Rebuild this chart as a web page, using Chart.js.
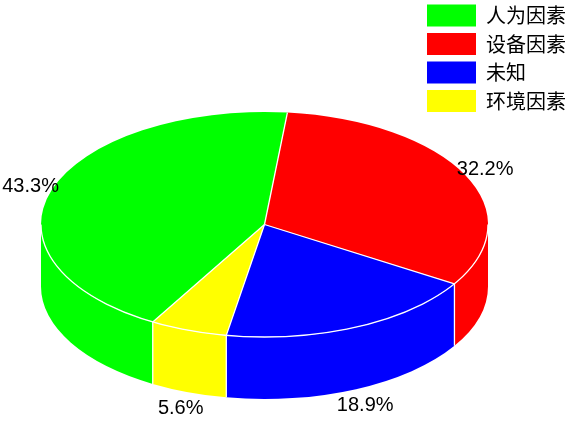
<!DOCTYPE html>
<html><head><meta charset="utf-8">
<script src="https://cdn.jsdelivr.net/npm/chart.js@4"></script>
<style>html,body{margin:0;padding:0;background:#fff}canvas{display:block}</style>
</head><body>
<canvas id="c" width="570" height="435"></canvas>
<script>
const categories = ['人为因素', '设备因素', '未知', '环境因素'];
const shares = [43.3, 32.2, 18.9, 5.6];
const sliceColors = ['#00ff00', '#ff0000', '#0000ff', '#ffff00'];

// drawing style of the tilted pie (ellipse radii and wall depth)
const PIE = { cx: 264.5, cy: 224.5, rx: 223.5, ry: 112.5, depth: 62 };
const LABEL_FONT = '20px "Liberation Sans", Arial, sans-serif';

const pie3d = {
  id: 'pie3d',
  afterLayout(chart) {
    const lg = chart.legend;
    lg.left += 6; lg.right += 6; lg.top -= 2; lg.bottom -= 2;
  },
  beforeDatasetsDraw(chart) {
    const ctx = chart.ctx;
    const arcs = chart.getDatasetMeta(0).data;
    const { cx, cy, rx, ry, depth } = PIE;
    // side walls (front half only)
    arcs.forEach((arc) => {
      const s = arc.startAngle, e = arc.endAngle;
      for (let k = -1; k <= 2; k++) {
        const lo = Math.max(s, k * 2 * Math.PI), hi = Math.min(e, k * 2 * Math.PI + Math.PI);
        if (hi > lo) {
          ctx.beginPath();
          ctx.ellipse(cx, cy, rx, ry, 0, lo, hi, false);
          ctx.ellipse(cx, cy + depth, rx, ry, 0, hi, lo, true);
          ctx.closePath();
          ctx.fillStyle = arc.options.backgroundColor;
          ctx.fill();
        }
      }
    });
    // squash the library's pie into the top face
    const a0 = arcs[0];
    const R = a0.outerRadius;
    ctx.save();
    ctx.translate(cx, cy);
    ctx.scale(rx / R, ry / R);
    ctx.translate(-a0.x, -a0.y);
  },
  afterDatasetsDraw(chart) {
    const ctx = chart.ctx;
    ctx.restore();
    const arcs = chart.getDatasetMeta(0).data;
    const { cx, cy, rx, ry, depth } = PIE;
    ctx.save();
    ctx.strokeStyle = '#ffffff';
    ctx.lineWidth = 1.3;
    // front rim of the top face
    ctx.beginPath();
    ctx.ellipse(cx, cy, rx, ry, 0, 0, Math.PI, false);
    ctx.stroke();
    arcs.forEach((arc) => {
      const a = arc.startAngle;
      const px = cx + rx * Math.cos(a), py = cy + ry * Math.sin(a);
      ctx.beginPath();
      ctx.moveTo(cx, cy);
      ctx.lineTo(px, py);
      if (Math.sin(a) > 0) {
        ctx.moveTo(px, py);
        ctx.lineTo(px, py + depth);
      }
      ctx.stroke();
    });
    // percentage labels
    ctx.fillStyle = '#000';
    ctx.font = LABEL_FONT;
    ctx.textAlign = 'center';
    ctx.textBaseline = 'middle';
    const total = shares.reduce((p, v) => p + v, 0);
    arcs.forEach((arc, i) => {
      const m = (arc.startAngle + arc.endAngle) / 2;
      const sn = Math.sin(m);
      const x = cx + rx * 1.1 * Math.cos(m);
      const y = cy + ry * 1.1 * sn + (sn > 0 ? depth + 6 : 0);
      ctx.fillText((shares[i] / total * 100).toFixed(1) + '%', x, y);
    });
    ctx.restore();
  }
};

new Chart(document.getElementById('c'), {
  type: 'pie',
  data: {
    labels: categories,
    datasets: [{
      data: shares,
      backgroundColor: sliceColors,
      borderColor: '#ffffff',
      borderWidth: 0
    }]
  },
  options: {
    responsive: false,
    devicePixelRatio: 1,
    animation: false,
    rotation: 210,
    layout: { padding: 0 },
    plugins: {
      legend: {
        position: 'right',
        align: 'start',
        labels: {
          boxWidth: 49,
          boxHeight: 22,
          padding: 6.5,
          color: '#000',
          font: { size: 20, family: '"Noto Sans CJK SC", sans-serif' }
        }
      },
      tooltip: { enabled: false }
    }
  },
  plugins: [pie3d]
});
</script>
</body></html>
